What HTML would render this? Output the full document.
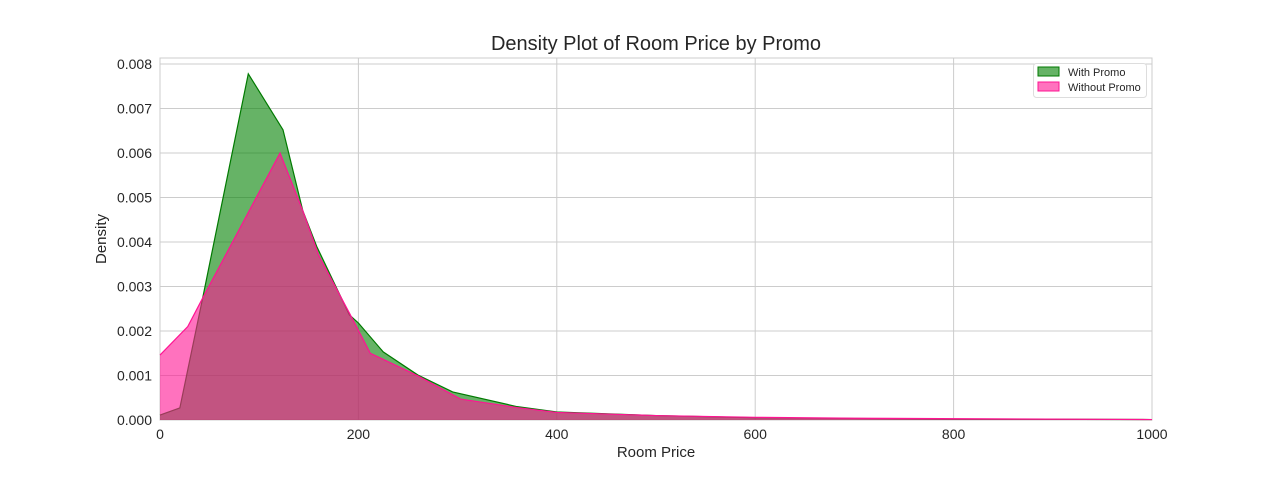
<!DOCTYPE html>
<html><head><meta charset="utf-8"><style>
body{margin:0;background:#fff;font-family:"Liberation Sans",Arial,sans-serif}
svg text{font-family:"Liberation Sans",Arial,sans-serif;fill:#262626}
</style></head><body>
<svg id="chart" width="1280" height="480"></svg>
<script>
const greenX=[0,20,43,89,124,144,158,191,200,225,260,295,360,400,500,600,800,1000];
const greenY=[0.00011,0.00027,0.00274,0.00778,0.00652,0.0047,0.0039,0.00236,0.00218,0.00153,0.00101,0.00063,0.0003,0.00018,0.0001,0.00005,0.00002,0.00001];
const pinkX=[0,28,43,121,144,160,191,212,260,303,360,400,500,600,700,1000];
const pinkY=[0.00146,0.0021,0.00274,0.006,0.0047,0.0037,0.0024,0.0015,0.00099,0.00047,0.00028,0.00017,0.0001,0.00006,0.00004,0.00001];
const xTicks=[0,200,400,600,800,1000];
const yTicks=[0,0.001,0.002,0.003,0.004,0.005,0.006,0.007,0.008];
const L=160,R=1152,T=58,B=420;
const sx=v=>L+(v-0)/1000*(R-L);
const sy=v=>B-v*44500;
const svg=document.getElementById('chart');
const NS='http://www.w3.org/2000/svg';
function mk(tag,attrs,parent){const e=document.createElementNS(NS,tag);for(const k in attrs)e.setAttribute(k,attrs[k]);(parent||svg).appendChild(e);return e;}
const frame=mk('rect',{x:L,y:T,width:R-L,height:B-T,fill:'#fff',stroke:'#ccc','stroke-width':1});


xTicks.forEach(v=>{
  const g=mk('line',{x1:sx(v),x2:sx(v),y1:T,y2:B,stroke:'#ccc','stroke-width':1});
  
  
  const t=mk('text',{x:sx(v),y:B+19,'text-anchor':'middle','font-size':14});
  t.textContent=v;
  
  
});
yTicks.forEach(v=>{
  const g=mk('line',{x1:L,x2:R,y1:sy(v),y2:sy(v),stroke:'#ccc','stroke-width':1});
  
  
  const t=mk('text',{x:L-8,y:sy(v)+5,'text-anchor':'end','font-size':14});
  t.textContent=v.toFixed(3);
  
  
});
function area(xs,ys,fill,stroke,name){
  let d='M'+sx(xs[0])+','+sy(0);
  xs.forEach((x,i)=>d+=' L'+sx(x)+','+sy(ys[i]));
  d+=' L'+sx(xs[xs.length-1])+','+sy(0)+' Z';
  const p=mk('path',{d:d,fill:fill,'fill-opacity':0.6,stroke:'none'});
  
  
  let l='';xs.forEach((x,i)=>l+=(i?' L':'M')+sx(x)+','+sy(ys[i]));
  const ln=mk('path',{d:l,fill:'none',stroke:stroke,'stroke-width':1.2});
  
  
}
area(greenX,greenY,'#008000','#007a00','with-promo');
area(pinkX,pinkY,'#ff1493','#ff1493','without-promo');
const title=mk('text',{x:656,y:50,'text-anchor':'middle','font-size':20});
title.textContent='Density Plot of Room Price by Promo';


const xl=mk('text',{x:656,y:457,'text-anchor':'middle','font-size':15});
xl.textContent='Room Price';


const yl=mk('text',{x:106,y:239,'text-anchor':'middle','font-size':15,transform:'rotate(-90 106 239)'});
yl.textContent='Density';


const lg=mk('g',{});


mk('rect',{x:1033.5,y:63.5,width:113,height:34,rx:3,fill:'#fff',stroke:'#ddd'},lg);
[['With Promo','#008000','#007a00',67],['Without Promo','#ff1493','#ff1493',82]].forEach(([n,f,s,y])=>{
  const e=mk('g',{},lg);
  
  
  mk('rect',{x:1038,y:y,width:21,height:9,fill:f,'fill-opacity':0.6,stroke:s},e);
  const t=mk('text',{x:1068,y:y+9,'font-size':11},e);t.textContent=n;
});
</script>
</body></html>
